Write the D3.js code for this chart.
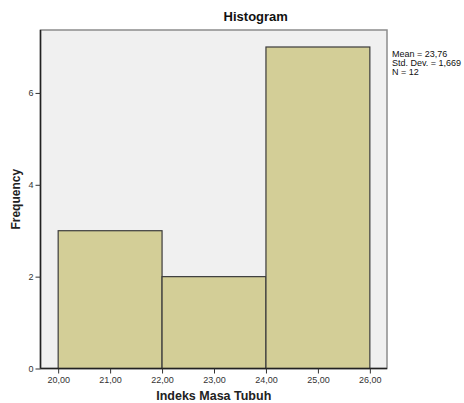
<!DOCTYPE html>
<html><head><meta charset="utf-8">
<script src="https://cdn.jsdelivr.net/npm/d3@7"></script>
<style>body{margin:0;background:#fff}svg{display:block}text{font-family:"Liberation Sans",Arial,sans-serif}</style>
</head><body><div id="c"></div>
<script>
const binStarts = [20, 22, 24];
const binEnds = [22, 24, 26];
const frequencies = [3, 2, 7];
const xTicks = [20, 21, 22, 23, 24, 25, 26];
const yTicks = [0, 2, 4, 6];
const statsLines = ["Mean = 23,76", "Std. Dev. = 1,669", "N = 12"];

const W = 464, H = 403;
const svg = d3.select("#c").append("svg").attr("width", W).attr("height", H);
const L = 40.5, R = 387, T = 30, B = 368.5;
const x = d3.scaleLinear().domain([19.66, 26.33]).range([L, R]);
const y = d3.scaleLinear().domain([0, 7.37]).range([B, T]);

svg.append("rect").attr("x", L).attr("y", T).attr("width", R - L).attr("height", B - T)
  .attr("fill", "#f0f0f0").attr("stroke", "#8c8c8c").attr("stroke-width", 1.5);

const bins = binStarts.map((s, i) => ({s, e: binEnds[i], f: frequencies[i]}));
svg.selectAll("rect.bar").data(bins).enter().append("rect").attr("class", "bar")
  .attr("x", d => x(d.s)).attr("width", d => x(d.e) - x(d.s))
  .attr("y", d => y(d.f)).attr("height", d => y(0) - y(d.f))
  .attr("fill", "#d3ce97").attr("stroke", "#3c3c3c").attr("stroke-width", 1.2);

const fmt = v => v.toFixed(2).replace(".", ",");
const xAxis = svg.append("g").attr("transform", `translate(0,${B})`)
  .call(d3.axisBottom(x).tickValues(xTicks).tickFormat(fmt).tickSize(5).tickSizeOuter(0));
const yAxis = svg.append("g").attr("transform", `translate(${L},0)`)
  .call(d3.axisLeft(y).tickValues(yTicks).tickFormat(d3.format("d")).tickSize(5).tickSizeOuter(0));
[xAxis, yAxis].forEach(g => {
  g.select(".domain").attr("stroke", "#222").attr("stroke-width", 1.5);
  g.selectAll(".tick line").attr("stroke", "#333");
  g.selectAll(".tick text").attr("fill", "#333").attr("font-size", 9).attr("font-family", "Liberation Sans, Arial, sans-serif");
});
xAxis.select(".domain").attr("d", `M${L},0H${R}`);
yAxis.select(".domain").attr("d", `M0,${T}V${B}`);
xAxis.selectAll(".tick text").attr("dy", "0.71em").attr("y", 8);
yAxis.selectAll(".tick text").attr("x", -7);

svg.append("text").attr("x", (L + R) / 2 + 42).attr("y", 21).attr("text-anchor", "middle")
  .attr("font-size", 13).attr("font-weight", "bold").attr("fill", "#111").text("Histogram");
svg.append("text").attr("x", (L + R) / 2).attr("y", 400).attr("text-anchor", "middle")
  .attr("font-size", 12.5).attr("font-weight", "bold").attr("fill", "#222").text("Indeks Masa Tubuh");
svg.append("text").attr("transform", `translate(20,${(T + B) / 2}) rotate(-90)`).attr("text-anchor", "middle")
  .attr("font-size", 12).attr("font-weight", "bold").attr("fill", "#222").text("Frequency");

svg.selectAll("text.stat").data(statsLines).enter().append("text").attr("class", "stat")
  .attr("x", 392).attr("y", (d, i) => 57 + i * 9).attr("font-size", 9).attr("fill", "#111").text(d => d);
</script></body></html>
